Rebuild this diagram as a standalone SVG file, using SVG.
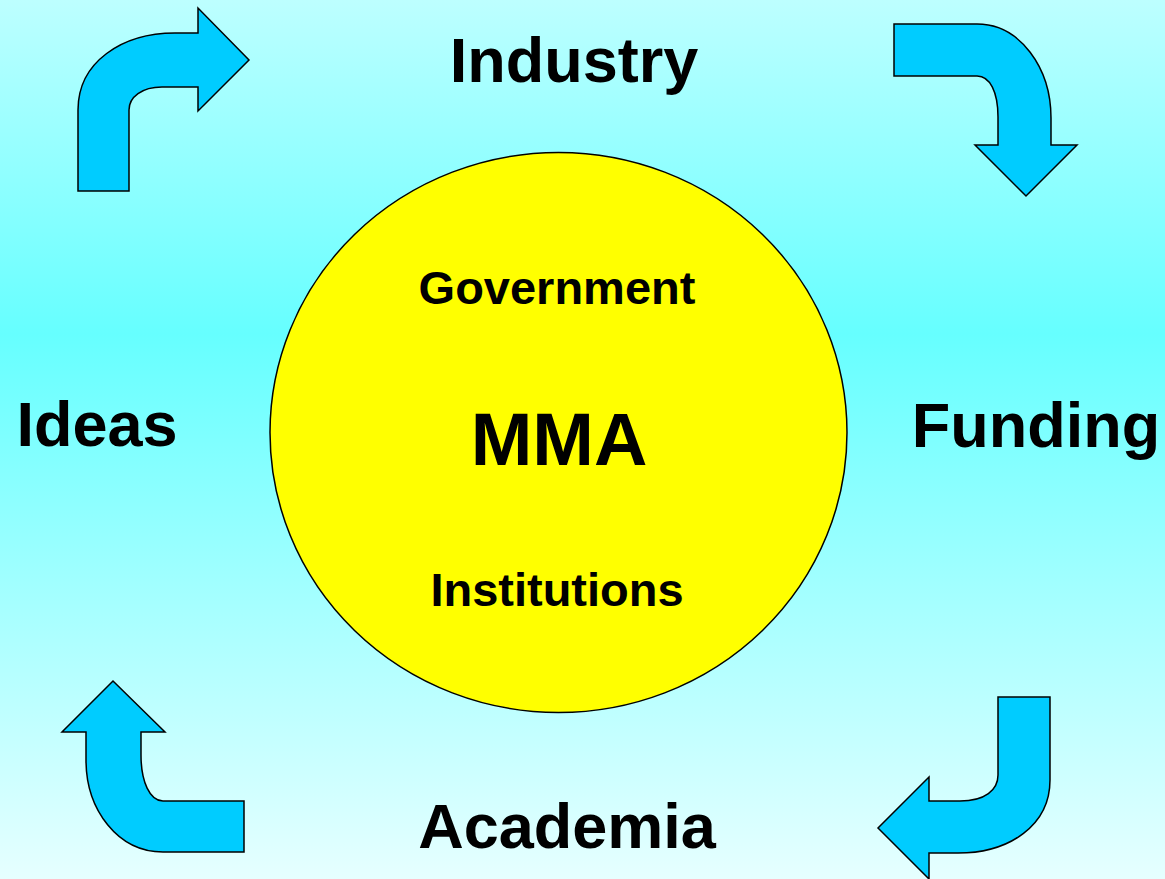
<svg xmlns="http://www.w3.org/2000/svg" width="1165" height="879" viewBox="0 0 1165 879">
<defs>
<linearGradient id="bg" x1="0" y1="0" x2="0" y2="1">
<stop offset="0" stop-color="#bdffff"/>
<stop offset="0.38" stop-color="#66ffff"/>
<stop offset="1" stop-color="#e6ffff"/>
</linearGradient>
</defs>
<style>
.arrow{fill:#00ccff;stroke:#000;stroke-width:1.5;stroke-linejoin:miter}
.big{font-family:"Liberation Sans",Arial,sans-serif;font-weight:bold;font-size:63px;fill:#000;text-anchor:middle}
.mid{font-family:"Liberation Sans",Arial,sans-serif;font-weight:bold;font-size:47px;fill:#000;text-anchor:middle}
.mma{font-family:"Liberation Sans",Arial,sans-serif;font-weight:bold;font-size:74px;fill:#000;text-anchor:middle}
</style>
<rect width="1165" height="879" fill="url(#bg)"/>
<g id="connectors">
<path id="arrow-tl" class="arrow" d="M78,191 L78,110 C78,62 122,33 175,33 L198,33 L198,8 L249,60 L198,111 L198,87 L162,87 C142,87 129,97 129,110 L129,191 Z"/>
<path id="arrow-tr" class="arrow" d="M894,24 L977,24 C1020,24 1051,68 1051,118 L1051,145 L1077,145 L1026,196 L975,145 L998,145 L998,117 C998,92 990,76 977,76 L894,76 Z"/>
<path id="arrow-br" class="arrow" d="M998,697 L1050,697 L1050,780 C1050,825 1010,853 958,853 L929,853 L929,879 L878,828 L929,777 L929,801 L960,801 C985,801 998,790 998,775 Z"/>
<path id="arrow-bl" class="arrow" d="M113,681 L165,732 L141,732 L141,755 C141,782 150,801 163,801 L244,801 L244,852 L163,852 C118,852 86,810 86,760 L86,732 L62,732 Z"/>
</g>
<g id="node-mma">
<ellipse cx="558.5" cy="432.5" rx="288.5" ry="280" fill="#ffff00" stroke="#000" stroke-width="1.5"/>
<text class="mid" x="557" y="304">Government</text>
<text class="mma" x="559" y="465">MMA</text>
<text class="mid" x="557" y="606">Institutions</text>
</g>
<g id="node-industry"><text class="big" x="574" y="82">Industry</text></g>
<g id="node-ideas"><text class="big" x="97" y="446">Ideas</text></g>
<g id="node-funding"><text class="big" x="1036" y="447">Funding</text></g>
<g id="node-academia"><text class="big" x="567" y="848">Academia</text></g>
</svg>
